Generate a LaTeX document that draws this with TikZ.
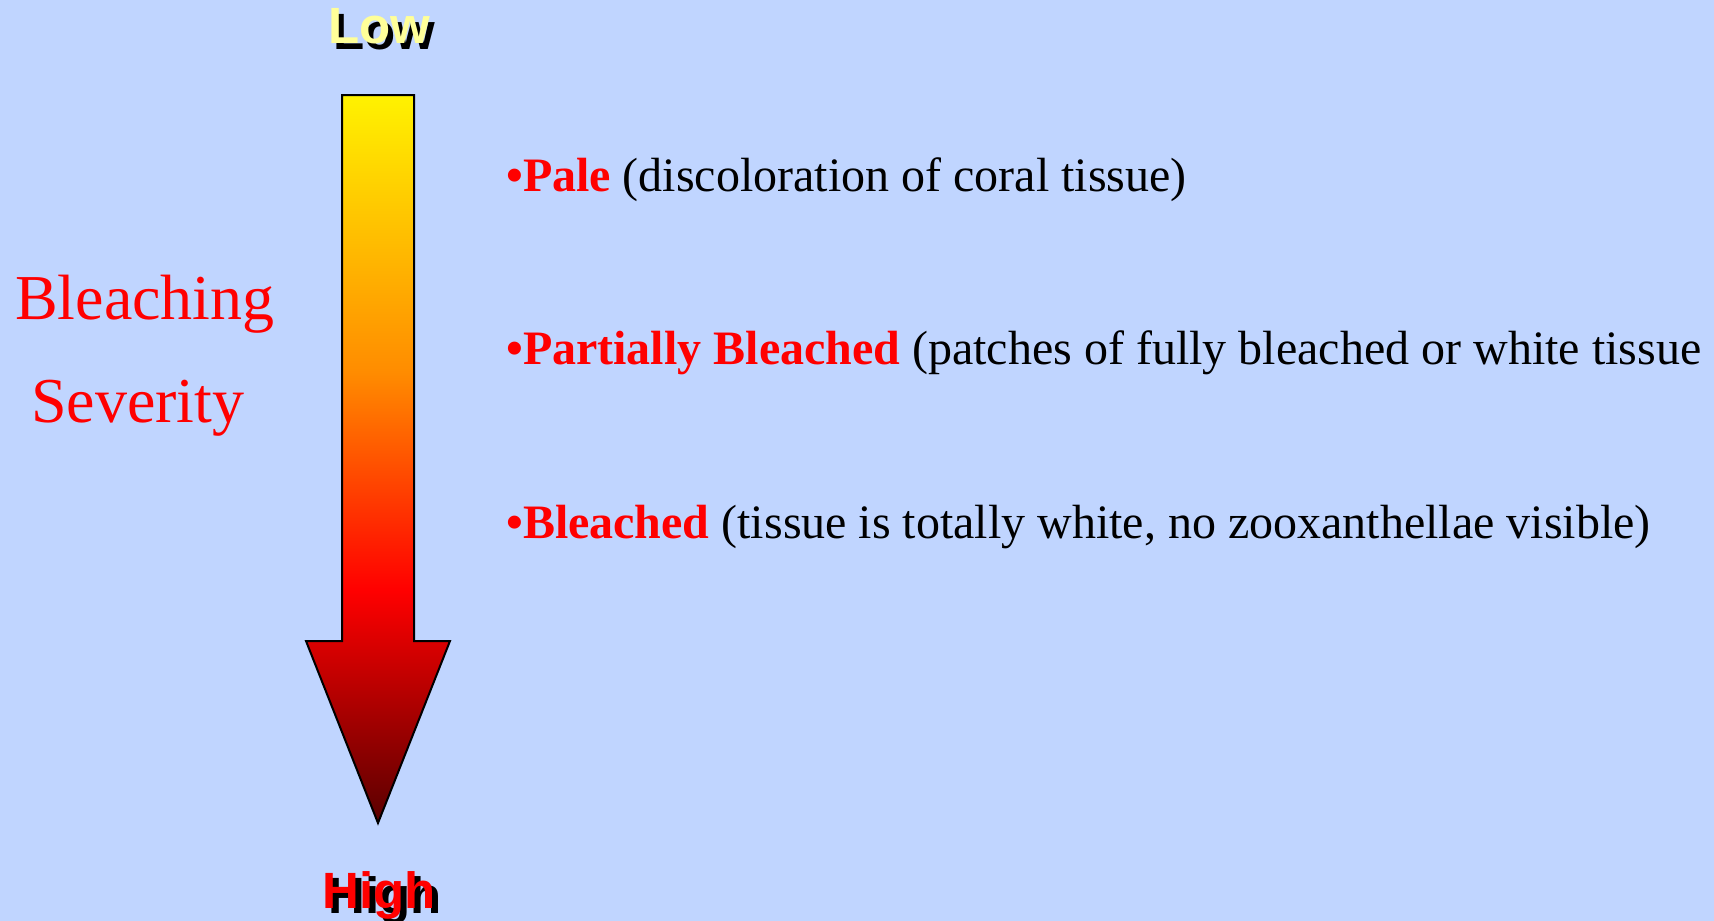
\documentclass[tikz,border=0pt]{standalone}
\usepackage{fontspec}
\setmainfont{Liberation Serif}
\newfontfamily\arialfont{Liberation Sans}
\definecolor{bgblue}{RGB}{192,213,255}
\definecolor{lowyellow}{RGB}{255,255,153}
\pgfdeclareverticalshading{arrowshade}{100bp}{rgb(0bp)=(0.35,0,0); rgb(25bp)=(0.35,0,0); rgb(41bp)=(1,0,0); rgb(56bp)=(1,0.55,0); rgb(75bp)=(1,0.95,0); rgb(100bp)=(1,0.95,0)}
\tikzset{
  body/.style={anchor=base west, inner sep=0pt, font=\fontsize{48}{56}\selectfont},
  title/.style={anchor=base west, inner sep=0pt, text=red, font=\fontsize{64}{72}\selectfont},
  endlabel/.style={anchor=base west, inner sep=0pt, font=\arialfont\bfseries\fontsize{51}{60}\selectfont},
}
\begin{document}
\begin{tikzpicture}[x=1pt,y=-1pt]
\fill[bgblue] (0,0) rectangle (1714,921);
\useasboundingbox (0,0) rectangle (1714,921);
% arrow
\shade[shading=arrowshade, draw=black, line width=2pt, line join=miter]
  (342,95) -- (414,95) -- (414,641) -- (450,641) -- (378,823) -- (306,641) -- (342,641) -- cycle;
% end labels
\node[endlabel, text=black] (lowshadow) at (333,49) {Low};
\node[endlabel, text=lowyellow] (low) at (328,43) {Low};
\node[endlabel, text=black] (highshadow) at (328,913) {High};
\node[endlabel, text=red] (high) at (322,908) {High};
% title
\node[title] (bleaching) at (15,319) {Bleaching};
\node[title] (severity) at (31,422) {Severity};
% items
\node[body] (pale) at (506,191) {\textcolor{red}{\bfseries •Pale} (discoloration of coral tissue)};
\node[body] (partial) at (506,364) {\textcolor{red}{\bfseries •Partially Bleached} (patches of fully bleached or white tissue};
\node[body] (bleached) at (506,538) {\textcolor{red}{\bfseries •Bleached} (tissue is totally white, no zooxanthellae visible)};
\end{tikzpicture}
\end{document}
